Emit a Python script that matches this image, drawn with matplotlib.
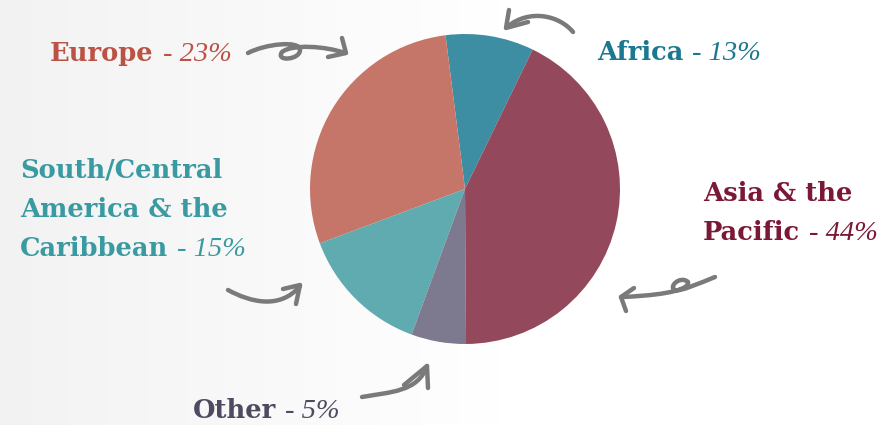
import numpy as np
import matplotlib
matplotlib.use("Agg")
import matplotlib.pyplot as plt
from matplotlib.path import Path
from matplotlib.patches import PathPatch

# slice shares as drawn, and the printed labels
regions = ["Africa", "Europe", "South/Central\nAmerica & the\nCaribbean", "Other", "Asia & the\nPacific"]
drawn_share = [9.2, 28.7, 13.7, 5.7, 42.7]
label_pct = [13, 23, 15, 5, 44]
wedge_colors = ["#3d8da3", "#c57668", "#5fabb0", "#7d798f", "#94485c"]
text_colors = ["#1b7890", "#bb5345", "#3a9aa2", "#4f4a62", "#7a1836"]

W, H = 896, 425
fig = plt.figure(figsize=(W / 100, H / 100), dpi=100)

# faint light background, greyer on the left
bg = fig.add_axes([0, 0, 1, 1], zorder=0)
grad = np.clip(np.linspace(0.95, 1.04, 256), 0, 1)[None, :]
bg.imshow(np.dstack([grad, grad, grad]), aspect="auto", extent=[0, 1, 0, 1])
bg.axis("off")

# pie: centre at (465, 189) px, radius 155 px
cx, cy, r = 465, 189, 155
ax = fig.add_axes([(cx - r) / W, (H - cy - r) / H, 2 * r / W, 2 * r / H], zorder=1)
ax.pie(drawn_share, colors=wedge_colors, startangle=64.1, counterclock=True,
       wedgeprops=dict(linewidth=0))
ax.set_xlim(-1, 1)
ax.set_ylim(-1, 1)

# overlay in pixel coordinates for labels and hand-drawn arrows
ov = fig.add_axes([0, 0, 1, 1], zorder=2)
ov.set_xlim(0, W)
ov.set_ylim(H, 0)
ov.axis("off")
ov.patch.set_alpha(0)

renderer = fig.canvas.get_renderer()


def label(x, y, name, pct, color, spacing=39):
    lines = name.split("\n")
    for i, ln in enumerate(lines):
        yy = y + i * spacing
        t = ov.text(x, yy, ln, fontsize=18.5, fontweight="bold", family="DejaVu Serif",
                    color=color, ha="left", va="center")
        if i == len(lines) - 1:
            bb = t.get_window_extent(renderer)
            x1 = bb.x1 / fig.dpi * 100
            ov.text(x1 + 9, yy + 1, "- %d%%" % pct, fontsize=20.5, style="italic",
                    family="Liberation Serif", color=color, ha="left", va="center")


label(50, 53, regions[1], label_pct[1], text_colors[1])
label(597, 52, regions[0], label_pct[0], text_colors[0])
label(20, 170, regions[2], label_pct[2], text_colors[2])
label(703, 193, regions[4], label_pct[4], text_colors[4])
label(193, 410, regions[3], label_pct[3], text_colors[3])

ARROW = dict(facecolor="none", edgecolor="#7a7a7a", linewidth=3.2, capstyle="round",
             joinstyle="round")


def curve(pts, codes):
    ov.add_patch(PathPatch(Path(pts, codes), **ARROW))


M, C4, L = Path.MOVETO, Path.CURVE4, Path.LINETO

# Europe arrow with a little loop
curve([(248, 53), (265, 44), (300, 40), (300, 50),
       (300, 60), (275, 62), (282, 52),
       (292, 44), (325, 46), (345, 53)],
      [M, C4, C4, C4, C4, C4, C4, C4, C4, C4])
curve([(342, 38), (346, 53), (328, 57)], [M, L, L])

# Africa arrow
curve([(573, 32), (560, 16), (530, 8), (507, 27)], [M, C4, C4, C4])
curve([(509, 10), (506, 28), (528, 22)], [M, L, L])

# South/Central America arrow
curve([(228, 290), (250, 302), (280, 310), (300, 286)], [M, C4, C4, C4])
curve([(283, 289), (300, 285), (296, 304)], [M, L, L])

# Other arrow
curve([(362, 397), (390, 392), (418, 392), (427, 366)], [M, C4, C4, C4])
curve([(404, 385), (427, 366), (428, 388)], [M, L, L])

# Asia arrow with a loop
curve([(715, 277), (700, 283), (680, 292), (675, 290),
       (668, 287), (680, 275), (688, 282),
       (690, 292), (650, 296), (621, 297)],
      [M, C4, C4, C4, C4, C4, C4, C4, C4, C4])
curve([(634, 288), (621, 297), (626, 311)], [M, L, L])

fig.savefig("out.png", dpi=100)
